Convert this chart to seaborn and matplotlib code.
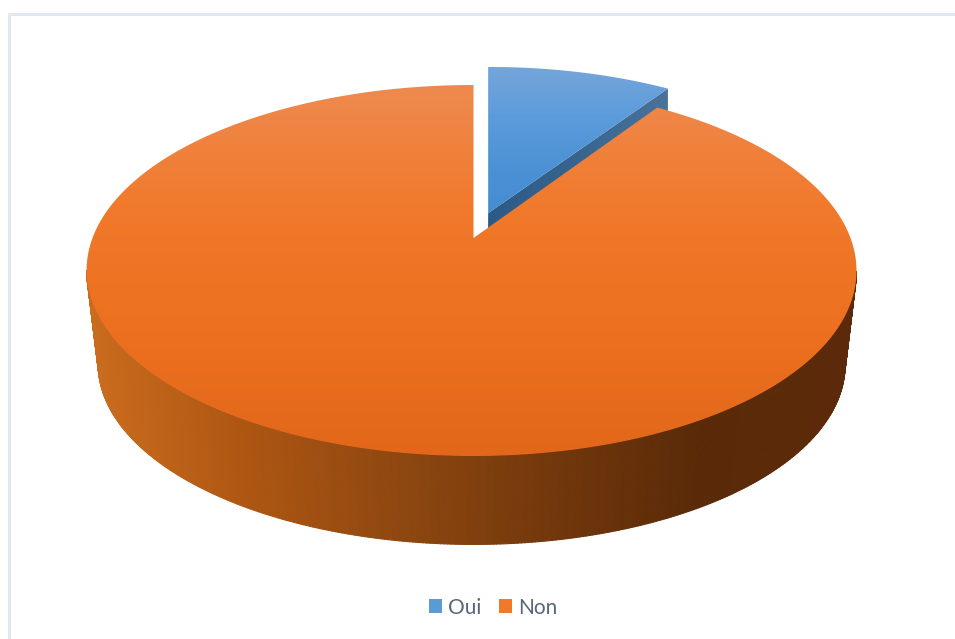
import numpy as np
import matplotlib
matplotlib.use("Agg")
import matplotlib.pyplot as plt
from matplotlib.collections import PolyCollection
from matplotlib.patches import Patch, Polygon
import seaborn as sns

# Survey answers, in percent
labels = ["Oui", "Non"]
shares = [9.4, 90.6]
legend_colors = ["#5B9BD5", "#F0792B"]

# Vertical and horizontal shading ramps of the pie faces
oui_top_ramp = ["#74A5DB", "#5A9BDA", "#4A90D4", "#468BCF"]
non_top_ramp = ["#EE8A4F", "#F1792B", "#EC701F", "#E3671A"]
non_side_ramp = ["#CA6C1E", "#AE5612", "#8F4810", "#73380C", "#5A2A08", "#5C2A0A"]
oui_side_ramp = ["#2C5A87", "#38658F", "#4A739B"]

sns.set_theme(style="white")
plt.rcParams["font.family"] = ["Lato", "DejaVu Sans"]

fig = plt.figure(figsize=(9.55, 6.39), dpi=100)
ax = fig.add_axes([0, 0, 1, 1])

# Perspective camera for the tilted disc, in pixel units
cx, cy = 473.5, 238.0
scale_x, scale_y, persp = 379.0, 179.8, 0.175
depth, bottom_scale = 95.0, 0.97
side_shift = 2.0
explode = 0.148


def project(theta, radius=1.0, du=0.0, dv=0.0):
    u = radius * np.sin(theta)
    v = radius * np.cos(theta) + dv
    w = 1 + persp * v
    w0 = 1 + persp * dv
    x = cx + scale_x * (u / w + du / w0) - side_shift * u ** 2
    return x, cy - scale_y * v / w


def lower(x, y):
    return cx + bottom_scale * (x - cx), cy + depth + bottom_scale * (y - cy)


def shaded(points, ramp, extent, horizontal, zorder):
    # Paint a gradient and clip it to the polygon
    cmap = sns.blend_palette(ramp, as_cmap=True)
    values = np.linspace(0, 1, 256)
    grid = values[None, :] if horizontal else values[:, None]
    img = ax.imshow(grid, cmap=cmap, extent=extent, aspect="auto",
                    origin="upper", zorder=zorder, interpolation="bilinear")
    poly = Polygon(points, closed=True, transform=ax.transData,
                   facecolor="none", edgecolor="none", snap=False)
    ax.add_patch(poly)
    img.set_clip_path(poly)


sweep = np.radians(360 * shares[0] / sum(shares))
bisect = sweep / 2
du, dv = explode * np.sin(bisect) * 0.92, explode * np.cos(bisect)

# Outer wall of the large slice, one thin coloured strip per step;
# only the front of the disc shows, so the far side is left out
theta_non = np.linspace(sweep, 2 * np.pi, 721)
x_top, y_top = project(theta_non)
x_bot, y_bot = lower(x_top, y_top)
front = (theta_non > np.radians(100)) & (theta_non < np.radians(260))
idx = np.flatnonzero(front)
quads = [[(x_top[i], y_top[i]), (x_top[i + 1], y_top[i + 1]),
          (x_bot[i + 1], y_bot[i + 1]), (x_bot[i], y_bot[i])]
         for i in idx[:-1]]
wall_cmap = sns.blend_palette(non_side_ramp, as_cmap=True)
wall_pos = (x_top[idx[:-1]] - 87) / (857 - 87)
wall_colors = wall_cmap(np.clip(wall_pos, 0, 1))
ax.add_collection(PolyCollection(quads, facecolors=wall_colors,
                                 edgecolors=wall_colors, linewidths=0.8,
                                 zorder=1))

# Exploded small slice: cut face first, then its top
ax0, ay0 = project(0.0, radius=0.0, du=du, dv=dv)
theta_oui = np.linspace(0, sweep, 120)
ox, oy = project(theta_oui, du=du, dv=dv)
bx0, by0 = lower(ax0, ay0)
_, by1 = lower(ox[-1], oy[-1])
bx1 = ox[-1]
shaded([(ax0, ay0), (ox[-1], oy[-1]), (bx1, by1), (bx0, by0)],
       oui_side_ramp, [ax0, ox[-1], 330, 80], True, 2)
shaded(np.column_stack([np.r_[ax0, ox], np.r_[ay0, oy]]),
       oui_top_ramp, [480, 680, 228, 67], False, 3)

# Top of the large slice
shaded(np.column_stack([np.r_[cx, x_top], np.r_[cy, y_top]]),
       non_top_ramp, [80, 865, 456, 85], False, 4)

# Frame of the chart area, left and top edges only
frame = "#E3E7EF"
ax.plot([9, 9], [639, 14], color=frame, lw=2.2, solid_capstyle="butt", zorder=0)
ax.plot([8, 955], [14, 14], color=frame, lw=2.2, solid_capstyle="butt", zorder=0)

handles = [Patch(facecolor=c, edgecolor="none", label=l)
           for c, l in zip(legend_colors, labels)]
ax.legend(handles=handles, loc="center", bbox_to_anchor=(493 / 955, 1 - 607.5 / 639),
          bbox_transform=ax.transAxes, ncol=2, frameon=False, fontsize=15,
          labelcolor="#56677C", handlelength=0.62, handleheight=0.62,
          handletextpad=0.3, columnspacing=0.85, borderpad=0, borderaxespad=0)

ax.set_xlim(0, 955)
ax.set_ylim(639, 0)
ax.axis("off")
fig.savefig("out.png", dpi=100, facecolor="white")
